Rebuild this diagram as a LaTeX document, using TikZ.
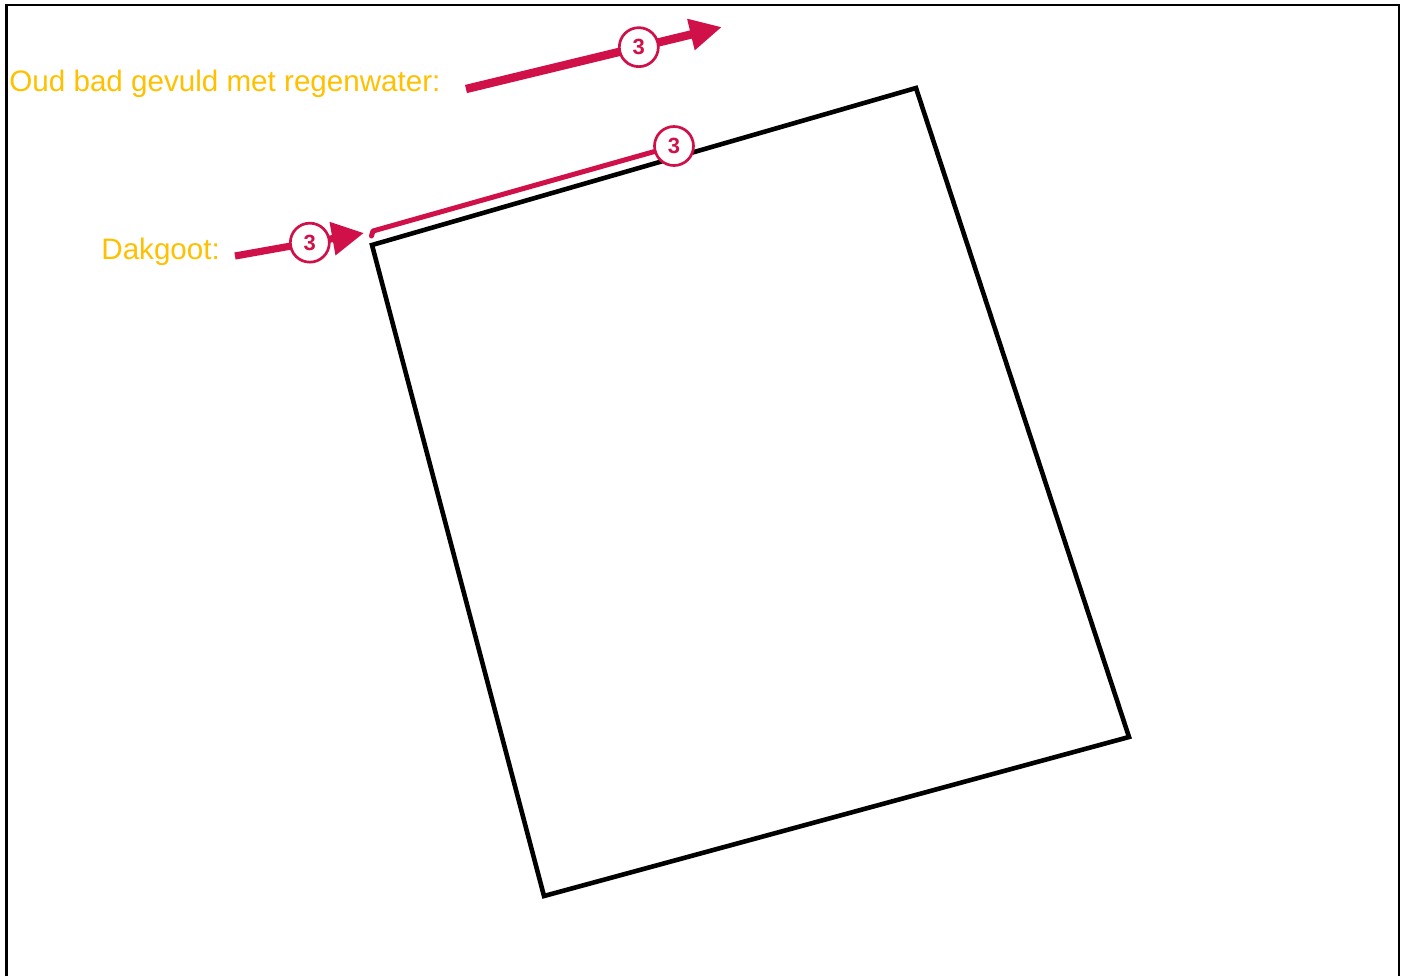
\documentclass[tikz,border=0pt]{standalone}
\usepackage{fontspec}
\setmainfont{Liberation Sans}
\usetikzlibrary{positioning,arrows.meta}
\definecolor{labelgold}{RGB}{255,192,0}
\definecolor{markred}{RGB}{208,16,72}

\begin{document}
\begin{tikzpicture}[
  x=0.5pt, y=-0.5pt,
  frame/.style={draw=black, line width=1.3pt},
  outline/.style={draw=black, line width=2.3pt, line join=miter},
  lbl/.style={anchor=base west, inner sep=0pt, text=labelgold, font=\fontsize{14.8}{17}\selectfont},
  pointer/.style={draw=markred, line width=#1},
  num/.style={draw=markred, circle, fill=white, line width=1.35pt, minimum size=19.5pt, inner sep=0pt,
    text=markred, font=\fontsize{11}{11}\selectfont\bfseries},
  gutter/.style={draw=markred, line width=2.5pt, line cap=round, line join=round},
]
  \useasboundingbox (0,0) rectangle (1405,976);
  \draw[frame] (6.5,976) |- (1399,5) -- (1399,976);

  \coordinate (shedNW) at (372,245);
  \coordinate (shedNE) at (916,88);
  \coordinate (shedSE) at (1129,737);
  \coordinate (shedSW) at (544,896);
  \draw[outline] (shedNW) -- (shedNE) -- (shedSE) -- (shedSW) -- cycle;

  \node[lbl] (bath) at (9,91) {Oud bad gevuld met regenwater:};
  \node[lbl] (goot) at (101,259) {Dakgoot:};

  \coordinate (bathTail) at (466,89);
  \coordinate (bathTip) at (722,27);
  \coordinate (gootTail) at (235,256);
  \coordinate (gootTip) at (364,233);
  \coordinate (gutterHook) at (371.5,236);
  \coordinate (gutterStart) at (373,231);

  \draw[pointer=4.2pt, -{Triangle[length=16pt,width=15pt]}] (bathTail) -- node[num, pos=0.675] (bathNum) {3} (bathTip);
  \draw[pointer=3.6pt, -{Triangle[length=16pt,width=16pt]}] (gootTail) -- node[num, pos=0.58] (gootNum) {3} (gootTip);

  \node[num] (gutterNum) at (674,146) {3};
  \draw[gutter] (gutterHook) -- (gutterStart) -- (gutterNum);
\end{tikzpicture}
\end{document}
